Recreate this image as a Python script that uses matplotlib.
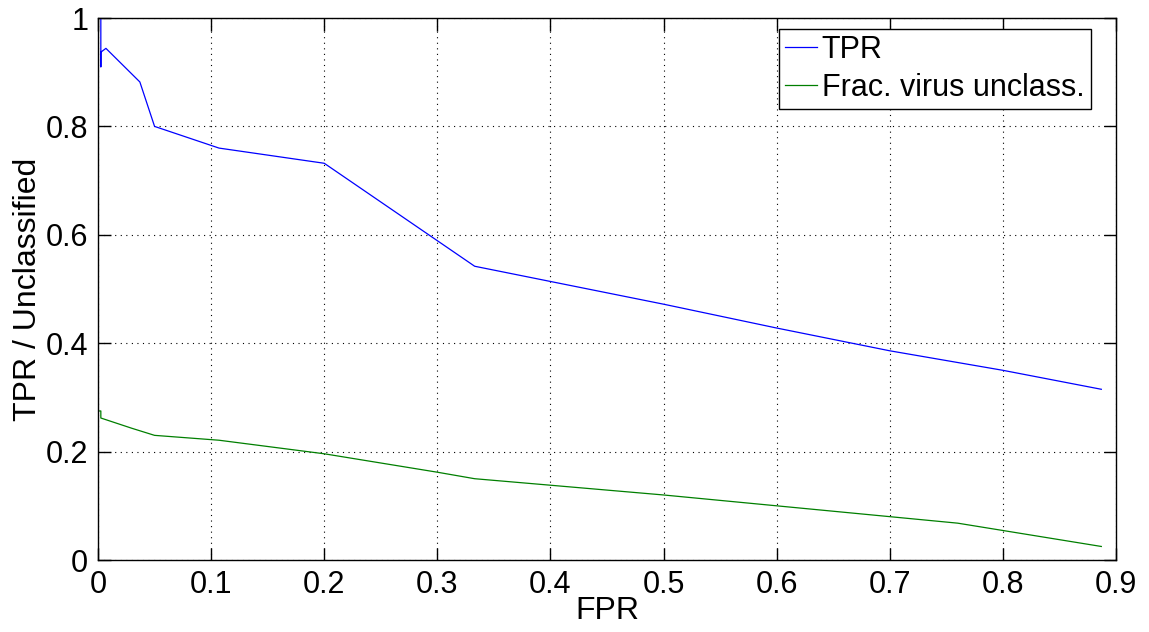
import matplotlib
matplotlib.use("Agg")
import matplotlib.pyplot as plt

plt.rcParams['font.family'] = ['Liberation Sans', 'DejaVu Sans']

# TPR curve vs FPR
fpr_tpr = [0.0025, 0.0025, 0.0025, 0.007, 0.037, 0.050, 0.107, 0.200, 0.333, 0.50, 0.60, 0.70, 0.80, 0.887]
tpr = [1.0, 0.91, 0.937, 0.944, 0.882, 0.800, 0.760, 0.732, 0.542, 0.472, 0.428, 0.386, 0.350, 0.315]

# fraction of virus reads left unclassified
fpr_unc = [0.0, 0.0025, 0.0025, 0.030, 0.050, 0.107, 0.200, 0.300, 0.333, 0.40, 0.50, 0.60, 0.70, 0.76, 0.887]
unclassified = [0.275, 0.275, 0.262, 0.243, 0.230, 0.221, 0.196, 0.162, 0.150, 0.138, 0.120, 0.100, 0.080, 0.068, 0.025]

fig = plt.figure(figsize=(11.49, 6.32), dpi=100)
ax = fig.add_axes([0.0853, 0.1139, 0.8860, 0.8576])

ax.plot(fpr_tpr, tpr, color='#0000ff', lw=0.9, label='TPR')
ax.plot(fpr_unc, unclassified, color='#007f00', lw=0.9, label='Frac. virus unclass.')

ax.set_xlim(0, 0.9)
ax.set_ylim(0, 1)
ax.set_xticks([0, 0.1, 0.2, 0.3, 0.4, 0.5, 0.6, 0.7, 0.8, 0.9])
ax.set_xticklabels(['0', '0.1', '0.2', '0.3', '0.4', '0.5', '0.6', '0.7', '0.8', '0.9'])
ax.set_yticks([0, 0.2, 0.4, 0.6, 0.8, 1])
ax.set_yticklabels(['0', '0.2', '0.4', '0.6', '0.8', '1'])
ax.grid(True, color='black', linestyle=(0, (1, 4)), linewidth=0.8)
ax.tick_params(direction='in', top=True, right=True, length=9, width=1, labelsize=22, pad=7)
for s in ax.spines.values():
    s.set_linewidth(1)

ax.set_xlabel('FPR', fontsize=23, labelpad=-3)
ax.set_ylabel('TPR / Unclassified', fontsize=23, labelpad=2)

leg = ax.legend(loc='upper right', bbox_to_anchor=(0.975, 0.98), fontsize=22, fancybox=False,
                framealpha=1, edgecolor='black', handlelength=1.05, handletextpad=0.15,
                borderpad=0.2, labelspacing=0.25, borderaxespad=0)
leg.get_frame().set_linewidth(1)

fig.savefig('out.png', dpi=100)
